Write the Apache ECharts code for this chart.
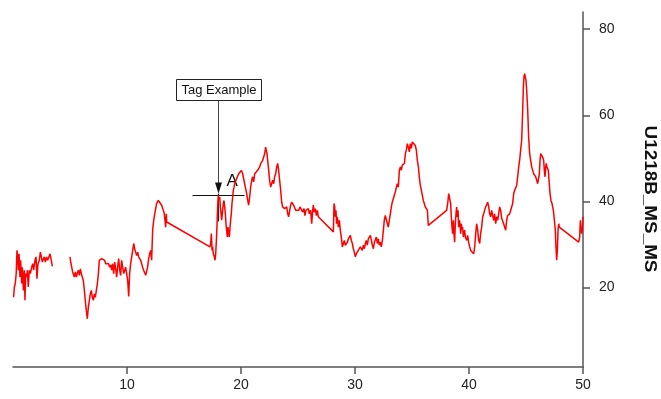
<!DOCTYPE html>
<html>
<head>
<meta charset="utf-8">
<script src="https://cdn.jsdelivr.net/npm/echarts@6/dist/echarts.min.js"></script>
<style>
html,body{margin:0;padding:0;background:#fff;}
#c{width:661px;height:399px;}
</style>
</head>
<body>
<div id="c"></div>
<script>
// ---- data (depth, value) ----
var segA = [[0.05,17.7],[0.12,20.1],[0.2,20.9],[0.28,23.2],[0.35,28.6],[0.41,27.1],[0.47,24.0],[0.53,27.8],[0.61,22.4],[0.67,26.3],[0.76,20.9],[0.82,24.7],[0.91,19.3],[0.99,24.0],[1.05,17.0],[1.11,23.2],[1.2,22.4],[1.26,24.0],[1.34,20.1],[1.43,24.0],[1.52,23.2],[1.64,24.7],[1.73,25.5],[1.81,24.0],[1.93,26.3],[2.02,27.1],[2.1,22.0],[2.19,25.5],[2.31,26.3],[2.4,28.2],[2.49,27.1],[2.57,25.9],[2.66,26.3],[2.75,27.1],[2.84,25.9],[2.95,27.1],[3.04,26.3],[3.13,26.1],[3.25,27.8],[3.33,26.7],[3.45,24.9]];

var segB = [[5.0,27.1],[5.06,25.9],[5.15,24.7],[5.23,23.6],[5.32,23.2],[5.38,22.4],[5.47,23.6],[5.56,22.4],[5.64,23.2],[5.73,24.0],[5.82,22.8],[5.91,24.3],[5.99,23.2],[6.08,22.4],[6.17,21.6],[6.26,19.3],[6.34,17.0],[6.43,14.7],[6.52,12.7],[6.61,15.4],[6.7,17.0],[6.78,18.5],[6.87,19.3],[6.96,17.7],[7.05,17.0],[7.13,18.5],[7.22,17.7],[7.31,19.3],[7.4,20.9],[7.49,23.2],[7.57,26.3],[7.66,26.7],[7.78,26.7],[7.87,26.3],[7.95,26.7],[8.04,26.3],[8.13,25.5],[8.22,25.9],[8.3,25.2],[8.39,25.5],[8.48,24.7],[8.57,25.2],[8.66,24.0],[8.74,25.5],[8.83,23.2],[8.92,25.9],[9.01,24.3],[9.09,22.4],[9.18,24.7],[9.27,26.7],[9.36,24.0],[9.44,22.8],[9.53,26.3],[9.62,24.7],[9.71,23.2],[9.8,24.0],[9.88,24.7],[9.97,23.2],[10.06,21.6],[10.15,17.9],[10.23,23.2],[10.32,25.5],[10.41,27.1],[10.5,28.6],[10.59,30.2],[10.67,29.0],[10.76,28.2],[10.85,27.4],[10.94,28.2],[11.02,27.1],[11.11,27.4],[11.2,26.3],[11.29,25.5],[11.37,24.7],[11.46,24.0],[11.55,23.6],[11.64,22.8],[11.73,23.2],[11.81,24.7],[11.9,26.7],[11.99,27.8],[12.08,28.6],[12.16,26.3],[12.25,33.3],[12.34,35.6],[12.43,37.1],[12.6,39.5],[12.75,40.2],[12.89,39.8],[13.04,39.1],[13.19,37.9],[13.27,37.1],[13.33,35.6],[13.39,34.0],[13.45,37.1],[13.48,35.2]];

var segC = [[17.28,29.4],[17.34,30.2],[17.4,32.5],[17.46,28.6],[17.51,29.4],[17.57,27.8],[17.66,27.1],[17.72,26.3],[17.78,27.8],[17.84,30.9],[17.89,34.0],[17.95,38.7],[18.01,41.4],[18.07,40.2],[18.13,41.0],[18.19,38.7],[18.25,37.1],[18.3,35.6],[18.39,37.9],[18.45,39.5],[18.51,40.2],[18.57,38.7],[18.63,37.1],[18.68,34.8],[18.74,33.3],[18.8,31.7],[18.86,34.0],[18.92,32.5],[18.98,31.7],[19.04,34.0],[19.09,35.6],[19.15,37.1],[19.21,39.5],[19.27,41.0],[19.33,42.6],[19.39,43.3],[19.44,44.1],[19.56,44.9],[19.68,45.7],[19.8,46.4],[19.91,46.8],[20.03,47.2],[20.15,46.4],[20.26,44.9],[20.38,43.3],[20.5,41.8],[20.59,40.2],[20.67,39.1],[20.76,41.0],[20.85,43.3],[20.94,44.9],[21.02,45.7],[21.11,44.5],[21.2,46.4],[21.29,46.8],[21.37,46.0],[21.46,47.2],[21.55,47.6],[21.64,48.0],[21.73,48.8],[21.81,48.4],[21.9,49.5],[21.99,49.9],[22.08,51.1],[22.16,52.6],[22.22,53.0],[22.28,51.1],[22.34,49.5],[22.43,47.2],[22.51,44.9],[22.6,43.3],[22.69,44.1],[22.78,44.9],[22.87,44.1],[22.95,45.7],[23.04,46.4],[23.13,48.0],[23.22,48.8],[23.3,47.2],[23.39,44.9],[23.48,42.6],[23.57,39.8],[23.65,38.7],[23.74,39.1],[23.83,38.3],[23.92,37.9],[24.01,38.7],[24.1,37.1],[24.18,36.4],[24.27,37.9],[24.36,39.1],[24.44,39.8],[24.53,39.5],[24.62,39.1],[24.71,38.7],[24.8,37.9],[24.88,38.3],[24.97,37.5],[25.06,37.9]];

var segD = [[25.18,38.7],[25.32,39.1],[25.41,37.5],[25.53,38.3],[25.61,36.7],[25.7,37.9],[25.82,37.5],[25.91,38.3],[25.99,37.1],[26.11,37.9],[26.2,34.8],[26.29,37.9],[26.34,39.1],[26.43,37.5],[26.52,38.3],[26.61,36.7],[26.7,37.9],[26.78,36.4],[28.1,32.9],[28.16,39.5],[28.22,38.7],[28.27,36.4],[28.33,37.9],[28.39,34.8],[28.45,36.4],[28.54,34.0],[28.63,35.6],[28.71,33.3],[28.8,31.7],[28.89,29.4],[28.98,30.2],[29.06,30.9],[29.15,29.8],[29.24,29.4],[29.33,30.5],[29.42,31.3],[29.5,31.7],[29.59,32.1],[29.68,30.9],[29.77,30.2],[29.85,29.0],[29.94,28.2],[30.03,27.1],[30.12,27.8],[30.2,27.4],[30.29,28.6],[30.38,28.2],[30.47,29.4],[30.56,29.0],[30.64,28.6],[30.73,29.8],[30.82,29.0],[30.91,30.2],[30.99,30.9],[31.08,29.8],[31.17,31.3],[31.26,30.9],[31.35,32.1],[31.43,31.7],[31.52,29.8],[31.61,29.0],[31.7,30.5],[31.78,30.9],[31.87,31.7],[31.96,30.2],[32.05,31.3],[32.13,29.8],[32.22,30.5],[32.31,29.4],[32.4,30.9],[32.49,33.3],[32.57,35.6],[32.66,36.7],[32.75,36.4],[32.84,34.8],[32.92,34.0],[33.01,35.6],[33.1,37.1],[33.19,38.7],[33.27,39.8],[33.36,40.6],[33.45,41.4],[33.54,42.2],[33.63,43.3],[33.71,44.1],[33.8,43.3],[33.89,47.2],[33.98,48.0],[34.06,47.2],[34.15,48.4],[34.24,48.0],[34.33,48.8],[34.42,51.1],[34.5,51.9],[34.59,53.4],[34.68,52.6],[34.77,51.5],[34.85,53.4],[34.94,52.3],[35.03,53.8],[35.12,54.2],[35.2,53.4],[35.29,53.0],[35.38,51.9],[35.47,49.5],[35.56,48.0],[35.64,45.7],[35.73,43.7],[35.82,42.6],[35.91,41.4],[35.99,40.2],[36.08,39.5],[36.17,38.7],[36.26,38.3],[36.35,37.9],[36.43,34.4],[36.52,34.0],[38.04,37.9],[38.13,39.5],[38.22,41.8]];

var segE = [[38.27,41.8],[38.33,42.2],[38.39,39.5],[38.45,36.4],[38.51,34.0],[38.57,32.5],[38.63,35.6],[38.68,32.5],[38.74,30.5],[38.8,34.8],[38.86,37.1],[38.92,38.7],[38.98,36.4],[39.04,37.9],[39.09,34.0],[39.15,35.6],[39.21,34.8],[39.27,32.5],[39.33,34.8],[39.39,33.3],[39.44,34.0],[39.5,31.7],[39.56,32.5],[39.62,33.3],[39.68,31.7],[39.74,32.1],[39.8,30.9],[39.88,32.1],[39.97,30.5],[40.06,29.4],[40.15,28.6],[40.23,28.2],[40.32,28.6],[40.41,27.8],[40.5,29.4],[40.59,32.5],[40.67,34.8],[40.76,33.3],[40.85,30.9],[40.94,30.2],[41.02,32.5],[41.11,34.0],[41.2,36.4],[41.29,37.1],[41.37,37.9],[41.46,38.7],[41.55,39.1],[41.64,39.8],[41.73,38.7],[41.81,37.1],[41.9,36.4],[41.99,37.9],[42.08,36.7],[42.16,35.6],[42.25,37.1],[42.34,34.8],[42.43,36.4],[42.52,35.6],[42.6,37.1],[42.69,38.7],[42.78,37.9],[42.87,36.0],[42.95,36.4],[43.04,34.8],[43.13,34.0],[43.22,33.3],[43.3,35.6],[43.39,36.7],[43.48,36.4],[43.57,37.1],[43.66,37.5],[43.74,38.7],[43.83,39.5],[43.92,41.8],[44.01,42.6],[44.09,42.9],[44.18,43.7],[44.27,45.7],[44.36,48.0],[44.44,49.5],[44.53,51.9],[44.62,54.2],[44.71,61.2],[44.77,66.6],[44.82,68.9],[44.88,69.7],[44.94,68.9],[45.0,68.1],[45.06,65.8],[45.15,61.2],[45.23,55.0],[45.32,51.1],[45.41,49.5],[45.5,48.0],[45.59,47.2],[45.67,46.4],[45.76,46.0],[45.85,45.7],[45.94,44.9],[46.02,44.1],[46.11,44.5],[46.17,46.4],[46.23,49.5],[46.29,51.1],[46.37,50.7],[46.46,50.3],[46.55,49.5],[46.61,47.2],[46.67,45.7],[46.73,48.0],[46.78,48.8],[46.84,48.0],[46.9,48.4],[46.96,47.2],[47.02,44.9],[47.11,41.8],[47.19,40.2],[47.28,39.5],[47.34,38.7],[47.4,37.9],[47.46,36.4],[47.52,34.8],[47.57,33.3],[47.63,29.4],[47.69,26.3],[47.75,28.6],[47.81,33.3],[47.87,34.8],[47.92,34.0],[49.62,30.5],[49.71,31.7],[49.77,35.6],[49.82,34.0],[49.88,32.5],[49.94,33.3],[50.0,36.4]];

var xTickValues = [10, 20, 30, 40, 50];
var yTickValues = [20, 40, 60, 80];
var yTitle = 'U1218B_MS_MS';
var tagPoint = [18.01, 41.4];
var tagText = 'Tag Example';
var tagLabel = 'A';

var seriesData = segA.concat([[4.2, null]], segB, segC, segD, segE);

var chart = echarts.init(document.getElementById('c'), null, {renderer: 'canvas'});
var FONT = 'Liberation Sans, Arial, Helvetica, sans-serif';
var axisColor = '#555';

chart.setOption({
  animation: false,
  backgroundColor: '#fff',
  grid: {left: 13, right: 78, top: 12, bottom: 32, containLabel: false},
  xAxis: {
    type: 'value', min: 0, max: 50,
    axisLine: {show: true, onZero: false, lineStyle: {color: axisColor, width: 1.5}},
    axisTick: {show: true, inside: false, length: 7, customValues: xTickValues, lineStyle: {color: axisColor, width: 1.5}},
    axisLabel: {show: true, customValues: xTickValues, margin: 11, fontSize: 14, color: '#222', fontFamily: FONT},
    splitLine: {show: false}
  },
  yAxis: {
    type: 'value', position: 'right', min: 1.5, max: 84,
    axisLine: {show: true, onZero: false, lineStyle: {color: axisColor, width: 1.5}},
    axisTick: {show: true, inside: false, length: 7, customValues: yTickValues, lineStyle: {color: axisColor, width: 1.5}},
    axisLabel: {show: true, customValues: yTickValues, margin: 16, fontSize: 14, color: '#222', fontFamily: FONT},
    splitLine: {show: false}
  },
  series: [{
    type: 'line',
    data: seriesData,
    showSymbol: false,
    connectNulls: false,
    lineStyle: {color: '#f00', width: 1.5},
    itemStyle: {color: '#f00'}
  }]
});

var p = chart.convertToPixel({gridIndex: 0}, tagPoint);
var px = Math.round(p[0]) + 0.5, py = Math.round(p[1]) + 0.5;

chart.setOption({
  graphic: [
    {type: 'text', x: 649, y: 199, rotation: -Math.PI / 2, scaleX: 1.18,
      style: {text: yTitle, font: 'bold 16px ' + FONT, fill: '#111', textAlign: 'center', textVerticalAlign: 'middle'}},
    {type: 'line', shape: {x1: px, y1: py - 95, x2: px, y2: py - 8}, style: {stroke: '#444', lineWidth: 1}},
    {type: 'polygon', shape: {points: [[px, py - 2], [px - 3.5, py - 13], [px + 3.5, py - 13]]}, style: {fill: '#111'}},
    {type: 'line', shape: {x1: px - 26, y1: py, x2: px + 26, y2: py}, style: {stroke: '#111', lineWidth: 1.2}},
    {type: 'line', shape: {x1: px, y1: py - 2, x2: px, y2: py + 26}, style: {stroke: '#222', lineWidth: 1.2}},
    {type: 'rect', shape: {x: px - 42, y: py - 116, width: 85, height: 21}, style: {fill: '#fff', stroke: '#222', lineWidth: 1}},
    {type: 'text', x: px + 0.5, y: py - 105.5, style: {text: tagText, font: '13px ' + FONT, fill: '#111', textAlign: 'center', textVerticalAlign: 'middle'}},
    {type: 'text', x: px + 8, y: py - 6, style: {text: tagLabel, font: '17px ' + FONT, fill: '#111', textAlign: 'left', textVerticalAlign: 'bottom'}}
  ]
});
</script>
</body>
</html>
